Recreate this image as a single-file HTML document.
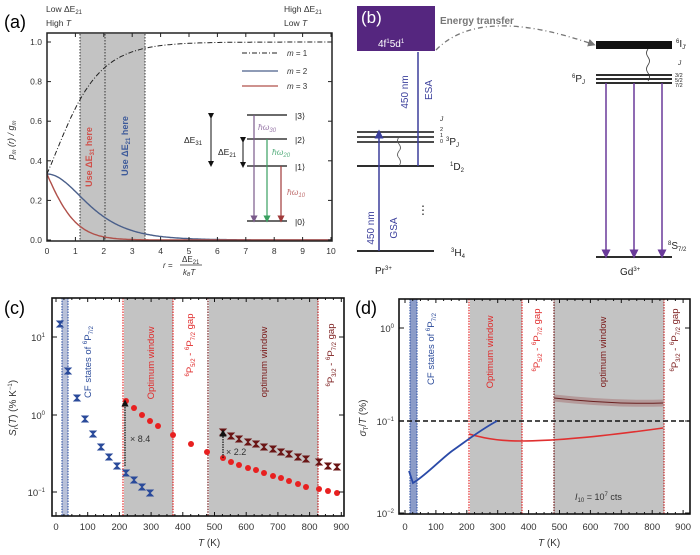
<!DOCTYPE html>
<html><head><meta charset="utf-8"><style>
body{margin:0;background:#fff}
svg{display:block;font-family:"Liberation Sans",sans-serif}
</style></head><body>
<svg id="s" width="700" height="555" viewBox="0 0 700 555" xmlns="http://www.w3.org/2000/svg">
<defs>
<marker id="ah" markerWidth="6" markerHeight="6" refX="3" refY="3" orient="auto"><path d="M0,0L6,3L0,6z" fill="context-stroke"/></marker>
</defs>
<!-- ===== Panel (a) ===== -->
<text x="4" y="28" font-size="18">(a)</text>
<text x="46" y="12" font-size="8.5" fill="#333">Low ΔE<tspan font-size="6" dy="2">21</tspan></text>
<text x="46" y="26" font-size="8.5" fill="#333">High <tspan font-style="italic">T</tspan></text>
<text x="284" y="12" font-size="8.5" fill="#333">High ΔE<tspan font-size="6" dy="2">21</tspan></text>
<text x="284" y="26" font-size="8.5" fill="#333">Low <tspan font-style="italic">T</tspan></text>
<rect x="80" y="34" width="65" height="207" fill="#c3c3c3"/>
<g stroke="#333" stroke-dasharray="1.5,1.5" stroke-width="1">
<line x1="80" y1="34" x2="80" y2="241"/><line x1="105" y1="34" x2="105" y2="241"/><line x1="145" y1="34" x2="145" y2="241"/></g>
<g id="acurves"></g>
<rect x="47" y="33" width="285" height="208" fill="none" stroke="#222" stroke-width="1.5"/>
<g id="aticks"></g>
<text transform="translate(92,157) rotate(-90)" text-anchor="middle" font-size="9" font-weight="bold" fill="#d0504a">Use ΔE<tspan font-size="6" dy="2">31</tspan><tspan dy="-2"> here</tspan></text>
<text transform="translate(128,146) rotate(-90)" text-anchor="middle" font-size="9" font-weight="bold" fill="#3d5a9a">Use ΔE<tspan font-size="6" dy="2">21</tspan><tspan dy="-2"> here</tspan></text>
<g font-size="8" fill="#333" font-style="italic">
<line x1="242" y1="53" x2="278" y2="53" stroke="#222" stroke-dasharray="5,2,1,2"/><text x="287" y="56">m <tspan font-style="normal">= 1</tspan></text>
<line x1="242" y1="71" x2="278" y2="71" stroke="#4a5f8a" stroke-width="1.3"/><text x="287" y="74">m <tspan font-style="normal">= 2</tspan></text>
<line x1="242" y1="86" x2="278" y2="86" stroke="#b0504a" stroke-width="1.3"/><text x="287" y="89">m <tspan font-style="normal">= 3</tspan></text>
</g>
<g stroke="#111" stroke-width="1.3">
<line x1="247" y1="115" x2="287" y2="115"/><line x1="247" y1="139" x2="287" y2="139"/><line x1="247" y1="166" x2="287" y2="166"/><line x1="247" y1="221" x2="287" y2="221"/>
<line x1="211" y1="116" x2="211" y2="164" marker-start="url(#ah)" marker-end="url(#ah)" stroke-width="1"/>
<line x1="243" y1="140" x2="243" y2="165" marker-start="url(#ah)" marker-end="url(#ah)" stroke-width="1"/>
</g>
<line x1="254" y1="115" x2="254" y2="219" stroke="#7a5a8a" stroke-width="1.2" marker-end="url(#ah)"/>
<line x1="267" y1="139" x2="267" y2="219" stroke="#3aa060" stroke-width="1.2" marker-end="url(#ah)"/>
<line x1="281" y1="166" x2="281" y2="219" stroke="#a03a3a" stroke-width="1.2" marker-end="url(#ah)"/>
<g font-size="8.5" fill="#222">
<text x="295" y="119">|3⟩</text><text x="295" y="143">|2⟩</text><text x="295" y="170">|1⟩</text><text x="295" y="225">|0⟩</text>
<text x="184" y="143">ΔE<tspan font-size="6" dy="2">31</tspan></text>
<text x="218" y="155">ΔE<tspan font-size="6" dy="2">21</tspan></text>
<text x="258" y="130" fill="#9a7aaa" font-style="italic">ħω<tspan font-size="6" dy="2">30</tspan></text>
<text x="272" y="155" fill="#5ab080" font-style="italic">ħω<tspan font-size="6" dy="2">20</tspan></text>
<text x="287" y="195" fill="#c07070" font-style="italic">ħω<tspan font-size="6" dy="2">10</tspan></text>
</g>
<text transform="translate(14,140) rotate(-90)" text-anchor="middle" font-size="9" font-style="italic" fill="#333">p<tspan font-size="6" dy="2">m</tspan><tspan dy="-2"> (r) / g</tspan><tspan font-size="6" dy="2">m</tspan></text>
<text x="163" y="268" font-size="8" font-style="italic" fill="#333">r =</text>
<text x="182" y="262" font-size="8" fill="#333">ΔE<tspan font-size="6" dy="2">21</tspan></text>
<line x1="180" y1="265" x2="202" y2="265" stroke="#333" stroke-width="0.7"/>
<text x="183" y="275" font-size="8" font-style="italic" fill="#333">k<tspan font-size="5" dy="1">B</tspan><tspan dy="-1">T</tspan></text>

<!-- ===== Panel (b) ===== -->
<rect x="357" y="6" width="78" height="45" fill="#55267f"/>
<text x="361" y="23" font-size="17" fill="#fff">(b)</text>
<text x="378" y="47" font-size="10" fill="#fff">4f<tspan font-size="6" dy="-4">1</tspan><tspan dy="4">5d</tspan><tspan font-size="6" dy="-4">1</tspan></text>
<text x="440" y="24" font-size="10" font-weight="bold" fill="#777">Energy transfer</text>
<path d="M436,50 Q480,5 592,44" fill="none" stroke="#777" stroke-width="1.3" stroke-dasharray="5,3,1,3" marker-end="url(#ah)"/>
<g stroke="#111">
<line x1="357" y1="132" x2="434" y2="132" stroke-width="1.6"/><line x1="357" y1="137" x2="434" y2="137" stroke-width="1.6"/><line x1="357" y1="142" x2="434" y2="142" stroke-width="1.6"/>
<line x1="357" y1="166" x2="434" y2="166" stroke-width="1.8"/>
<line x1="357" y1="251" x2="434" y2="251" stroke-width="1.8"/>
<rect x="596" y="41" width="76" height="8" fill="#111" stroke="none"/>
<line x1="596" y1="75" x2="672" y2="75" stroke-width="1.8"/><line x1="596" y1="79" x2="672" y2="79" stroke-width="1.8"/><line x1="596" y1="83" x2="672" y2="83" stroke-width="1.8"/>
<line x1="596" y1="257" x2="672" y2="257" stroke-width="1.8"/>
</g>
<path d="M399,137 q-3,4 0,7 q3,4 0,7 q-3,4 0,7 q3,4 0,8" fill="none" stroke="#555" stroke-width="0.8"/>
<path d="M648,49 q-3,4 0,8 q3,4 0,8 q-3,4 0,8 q3,4 0,8" fill="none" stroke="#333" stroke-width="0.8"/>
<line x1="379" y1="251" x2="379" y2="134" stroke="#3a3e9b" stroke-width="1.5" marker-end="url(#ah)"/>
<line x1="418" y1="166" x2="418" y2="52" stroke="#3a3e9b" stroke-width="1.5"/>
<g stroke="#6a3a9a" stroke-width="1.5"><line x1="606" y1="83" x2="606" y2="254" marker-end="url(#ah)"/><line x1="634" y1="83" x2="634" y2="254" marker-end="url(#ah)"/><line x1="662" y1="83" x2="662" y2="254" marker-end="url(#ah)"/></g>
<g font-size="10" fill="#3a3e9b">
<text transform="translate(374,228) rotate(-90)" text-anchor="middle">450 nm</text>
<text transform="translate(397,228) rotate(-90)" text-anchor="middle">GSA</text>
<text transform="translate(408,92) rotate(-90)" text-anchor="middle">450 nm</text>
<text transform="translate(432,90) rotate(-90)" text-anchor="middle">ESA</text>
</g>
<text x="417" y="214" font-size="12" fill="#222">⋮</text>
<g font-size="10" fill="#222">
<text x="440" y="121" font-size="6.5" font-style="italic">J</text>
<text x="440" y="131" font-size="5.5">2</text><text x="440" y="137" font-size="5.5">1</text><text x="440" y="143" font-size="5.5">0</text>
<text x="446" y="145"><tspan font-size="6" dy="-4">3</tspan><tspan dy="4">P</tspan><tspan font-size="6" dy="2" font-style="italic">J</tspan></text>
<text x="450" y="170"><tspan font-size="6" dy="-4">1</tspan><tspan dy="4">D</tspan><tspan font-size="6" dy="2">2</tspan></text>
<text x="451" y="256"><tspan font-size="6" dy="-4">3</tspan><tspan dy="4">H</tspan><tspan font-size="6" dy="2">4</tspan></text>
<text x="375" y="274">Pr<tspan font-size="6" dy="-4">3+</tspan></text>
<text x="676" y="47"><tspan font-size="6" dy="-4">6</tspan><tspan dy="4">I</tspan><tspan font-size="6" dy="2">J'</tspan></text>
<text x="678" y="65" font-size="6.5" font-style="italic">J</text>
<text x="675" y="77" font-size="5.5">3/2</text><text x="675" y="82" font-size="5.5">5/2</text><text x="675" y="87" font-size="5.5">7/2</text>
<text x="572" y="82"><tspan font-size="6" dy="-4">6</tspan><tspan dy="4">P</tspan><tspan font-size="6" dy="2" font-style="italic">J</tspan></text>
<text x="668" y="249"><tspan font-size="6" dy="-4">8</tspan><tspan dy="4">S</tspan><tspan font-size="6" dy="2">7/2</tspan></text>
<text x="620" y="275">Gd<tspan font-size="6" dy="-4">3+</tspan></text>
</g>

<!-- ===== Panel (c) ===== -->
<text x="4" y="314" font-size="18">(c)</text>
<rect x="62" y="298" width="6" height="218" fill="#b8c0d8"/>
<rect x="124" y="298" width="49" height="218" fill="#c3c3c3"/>
<rect x="209" y="298" width="109" height="218" fill="#c3c3c3"/>
<g stroke-dasharray="1.5,1.2" stroke-width="1.2">
<line x1="62" y1="298" x2="62" y2="516" stroke="#3a5aa8"/><line x1="68" y1="298" x2="68" y2="516" stroke="#3a5aa8"/>
<line x1="123" y1="298" x2="123" y2="516" stroke="#e02020"/><line x1="173" y1="298" x2="173" y2="516" stroke="#e02020"/>
<line x1="208" y1="298" x2="208" y2="516" stroke="#6a1010"/><line x1="318" y1="298" x2="318" y2="516" stroke="#c02020"/>
</g>
<g id="cdata"></g>
<line x1="125" y1="466" x2="125" y2="403" stroke="#111" stroke-dasharray="1.5,1" stroke-width="1.2" marker-end="url(#ah)"/>
<text x="130" y="442" font-size="9" fill="#333">× 8.4</text>
<line x1="223" y1="458" x2="223" y2="433" stroke="#111" stroke-dasharray="1.5,1" stroke-width="1.2" marker-end="url(#ah)"/>
<text x="226" y="455" font-size="9" fill="#333">× 2.2</text>
<rect x="52" y="298" width="292" height="218" fill="none" stroke="#111" stroke-width="1.6"/>
<g id="cticks" stroke="#111"></g>
<g font-size="9.5" fill="#333" text-anchor="end">
<text x="45" y="341">10<tspan font-size="6" dy="-4">1</tspan></text>
<text x="45" y="419">10<tspan font-size="6" dy="-4">0</tspan></text>
<text x="45" y="496">10<tspan font-size="6" dy="-4">−1</tspan></text>
</g>
<g font-size="9.5" fill="#333" text-anchor="middle" id="cx"></g>
<text x="198" y="546" font-size="10" fill="#333"><tspan font-style="italic">T</tspan> (K)</text>
<text transform="translate(16,408) rotate(-90)" text-anchor="middle" font-size="10" fill="#333"><tspan font-style="italic">S</tspan><tspan font-size="6" dy="2">r</tspan><tspan dy="-2">(</tspan><tspan font-style="italic">T</tspan>) (% K<tspan font-size="6" dy="-4">−1</tspan><tspan dy="4">)</tspan></text>
<g font-size="9.5">
<text transform="translate(91,362) rotate(-90)" text-anchor="middle" fill="#2a4a9a">CF states of <tspan font-size="6" dy="-4">6</tspan><tspan dy="4">P</tspan><tspan font-size="6" dy="2">7/2</tspan></text>
<text transform="translate(154,363) rotate(-90)" text-anchor="middle" fill="#e02a2a">Optimum window</text>
<text transform="translate(193,345) rotate(-90)" text-anchor="middle" fill="#e02a2a"><tspan font-size="6" dy="-4">6</tspan><tspan dy="4">P</tspan><tspan font-size="6" dy="2">5/2</tspan><tspan dy="-2"> - </tspan><tspan font-size="6" dy="-4">6</tspan><tspan dy="4">P</tspan><tspan font-size="6" dy="2">7/2</tspan><tspan dy="-2"> gap</tspan></text>
<text transform="translate(267,362) rotate(-90)" text-anchor="middle" fill="#7a1a1a">optimum window</text>
<text transform="translate(334,355) rotate(-90)" text-anchor="middle" fill="#7a1a1a"><tspan font-size="6" dy="-4">6</tspan><tspan dy="4">P</tspan><tspan font-size="6" dy="2">3/2</tspan><tspan dy="-2"> - </tspan><tspan font-size="6" dy="-4">6</tspan><tspan dy="4">P</tspan><tspan font-size="6" dy="2">7/2</tspan><tspan dy="-2"> gap</tspan></text>
</g>

<!-- ===== Panel (d) ===== -->
<text x="355" y="314" font-size="18">(d)</text>
<rect x="410" y="299" width="7" height="215" fill="#8c9cc8"/>
<rect x="470" y="299" width="52" height="215" fill="#c3c3c3"/>
<rect x="554" y="299" width="110" height="215" fill="#c3c3c3"/>
<g stroke-dasharray="1.5,1.2" stroke-width="1.2">
<line x1="410" y1="299" x2="410" y2="514" stroke="#3a5aa8"/><line x1="417" y1="299" x2="417" y2="514" stroke="#3a5aa8"/>
<line x1="469" y1="299" x2="469" y2="514" stroke="#e02020"/><line x1="522" y1="299" x2="522" y2="514" stroke="#e02020"/>
<line x1="554" y1="299" x2="554" y2="514" stroke="#6a1010"/><line x1="664" y1="299" x2="664" y2="514" stroke="#c02020"/>
</g>
<line x1="399" y1="421" x2="690" y2="421" stroke="#111" stroke-width="1.6" stroke-dasharray="5,3"/>
<path d="M554,398 C590,402 630,404 663,403" fill="none" stroke="#b09090" stroke-width="7" opacity="0.8"/>
<path d="M554,398 C590,402 630,404 663,403" fill="none" stroke="#6a2020" stroke-width="1"/>
<path d="M469,434 C490,440 505,441 522,441 C560,441 620,434 663,428" fill="none" stroke="#e03030" stroke-width="1.6"/>
<path d="M409,471 L413,483 C425,476 440,460 452,451 C465,442 480,430 497,421" fill="none" stroke="#2a4aa8" stroke-width="1.8"/>
<text x="575" y="500" font-size="9" fill="#333"><tspan font-style="italic">I</tspan><tspan font-size="6" dy="2">10</tspan><tspan dy="-2"> = 10</tspan><tspan font-size="6" dy="-4">7</tspan><tspan dy="4"> cts</tspan></text>
<rect x="399" y="299" width="291" height="215" fill="none" stroke="#111" stroke-width="1.6"/>
<g id="dticks" stroke="#111"></g>
<g font-size="9.5" fill="#333" text-anchor="end">
<text x="394" y="332">10<tspan font-size="6" dy="-4">0</tspan></text>
<text x="394" y="425">10<tspan font-size="6" dy="-4">−1</tspan></text>
<text x="394" y="517">10<tspan font-size="6" dy="-4">−2</tspan></text>
</g>
<g font-size="9.5" fill="#333" text-anchor="middle" id="dx"></g>
<text x="538" y="546" font-size="10" fill="#333"><tspan font-style="italic">T</tspan> (K)</text>
<text transform="translate(366,418) rotate(-90)" text-anchor="middle" font-size="10" fill="#333"><tspan font-style="italic">σ</tspan><tspan font-size="6" dy="2">T</tspan><tspan dy="-2">/</tspan><tspan font-style="italic">T</tspan> (%)</text>
<g font-size="9.5">
<text transform="translate(434,349) rotate(-90)" text-anchor="middle" fill="#2a4a9a">CF states of <tspan font-size="6" dy="-4">6</tspan><tspan dy="4">P</tspan><tspan font-size="6" dy="2">7/2</tspan></text>
<text transform="translate(493,352) rotate(-90)" text-anchor="middle" fill="#e02a2a">Optimum window</text>
<text transform="translate(540,340) rotate(-90)" text-anchor="middle" fill="#e02a2a"><tspan font-size="6" dy="-4">6</tspan><tspan dy="4">P</tspan><tspan font-size="6" dy="2">5/2</tspan><tspan dy="-2"> - </tspan><tspan font-size="6" dy="-4">6</tspan><tspan dy="4">P</tspan><tspan font-size="6" dy="2">7/2</tspan><tspan dy="-2"> gap</tspan></text>
<text transform="translate(606,352) rotate(-90)" text-anchor="middle" fill="#7a1a1a">optimum window</text>
<text transform="translate(678,340) rotate(-90)" text-anchor="middle" fill="#7a1a1a"><tspan font-size="6" dy="-4">6</tspan><tspan dy="4">P</tspan><tspan font-size="6" dy="2">3/2</tspan><tspan dy="-2"> - </tspan><tspan font-size="6" dy="-4">6</tspan><tspan dy="4">P</tspan><tspan font-size="6" dy="2">7/2</tspan><tspan dy="-2"> gap</tspan></text>
</g>
</svg>
<script>
var NS="http://www.w3.org/2000/svg";
function el(p,t,a,txt){var e=document.createElementNS(NS,t);for(var k in a)e.setAttribute(k,a[k]);if(txt!==undefined)e.textContent=txt;p.appendChild(e);return e;}
var ac=document.getElementById('acurves');
var X=function(r){return 47+r*28.4},Y=function(p){return 240-p*198};
var d1="",d2="",d3="";
for(var i=0;i<=200;i++){var r=i*0.05,Z=1+Math.exp(-r)+Math.exp(-2*r);
var s=i?"L":"M";d1+=s+X(r).toFixed(1)+","+Y(1/Z).toFixed(1);d2+=s+X(r).toFixed(1)+","+Y(Math.exp(-r)/Z).toFixed(1);d3+=s+X(r).toFixed(1)+","+Y(Math.exp(-2*r)/Z).toFixed(1);}
el(ac,'path',{d:d1,fill:'none',stroke:'#222','stroke-width':1,'stroke-dasharray':'5,2,1,2'});
el(ac,'path',{d:d2,fill:'none',stroke:'#4a5f8a','stroke-width':1.4});
el(ac,'path',{d:d3,fill:'none',stroke:'#b0504a','stroke-width':1.4});
var at=document.getElementById('aticks');
for(var k=0;k<=10;k++){var x=X(k);el(at,'line',{x1:x,y1:241,x2:x,y2:237,stroke:'#222'});el(at,'line',{x1:x,y1:33,x2:x,y2:37,stroke:'#222'});el(at,'text',{x:x,y:254,'font-size':8.5,fill:'#333','text-anchor':'middle'},k);}
for(var k=0;k<=5;k++){var p=k*0.2,y=Y(p);el(at,'line',{x1:47,y1:y,x2:51,y2:y,stroke:'#222'});el(at,'line',{x1:332,y1:y,x2:328,y2:y,stroke:'#222'});el(at,'text',{x:42,y:y+3,'font-size':8.5,fill:'#333','text-anchor':'end'},p.toFixed(1));}
var cd=document.getElementById('cdata');
var blue=[[60,324],[68,371],[77,398],[85,419],[93,434],[101,447],[109,457],[117,466],[126,473],[134,480],[142,487],[150,493]];
var red=[[126,401],[134,408],[142,415],[150,421],[158,426],[173,435],[191,444],[207,452],[223,458],[231,462],[239,465],[248,468],[256,470],[264,473],[273,476],[281,478],[289,481],[298,484],[306,487],[319,489],[328,491],[337,493]];
var dr=[[223,432],[231,436],[239,439],[248,442],[256,444],[264,447],[273,449],[281,452],[289,454],[298,457],[306,459],[319,462],[328,466],[337,467]];
function hg(p,c){el(cd,'path',{d:'M'+(p[0]-3)+','+(p[1]-3)+'h6l-6,6h6z',fill:c,stroke:c,'stroke-width':1});}
blue.forEach(function(p){hg(p,'#2a4a9a')});
dr.forEach(function(p){hg(p,'#6a1515')});
red.forEach(function(p){el(cd,'circle',{cx:p[0],cy:p[1],r:3,fill:'#e82020'})});
var cx=document.getElementById('cx'),dx=document.getElementById('dx');
var ct=document.getElementById('cticks'),dt=document.getElementById('dticks');
for(var k=0;k<=9;k++){el(cx,'text',{x:56+k*31.7,y:530},k*100);el(dx,'text',{x:405+k*30.9,y:530},k*100);}
for(var k=0;k<=36;k++){var xc=56+k*7.925,l=(k%4==0)?4:2;if(xc<344){el(ct,'line',{x1:xc,y1:516,x2:xc,y2:516-l});el(ct,'line',{x1:xc,y1:298,x2:xc,y2:298+l});}
var xd=405+k*7.725;if(xd<690){el(dt,'line',{x1:xd,y1:514,x2:xd,y2:514-l});el(dt,'line',{x1:xd,y1:299,x2:xd,y2:299+l});}}
[337,415,492].forEach(function(y){el(ct,'line',{x1:52,y1:y,x2:57,y2:y});el(ct,'line',{x1:344,y1:y,x2:339,y2:y});});
[328,421,513].forEach(function(y){el(dt,'line',{x1:399,y1:y,x2:404,y2:y});el(dt,'line',{x1:690,y1:y,x2:685,y2:y});});
</script>
</body></html>
